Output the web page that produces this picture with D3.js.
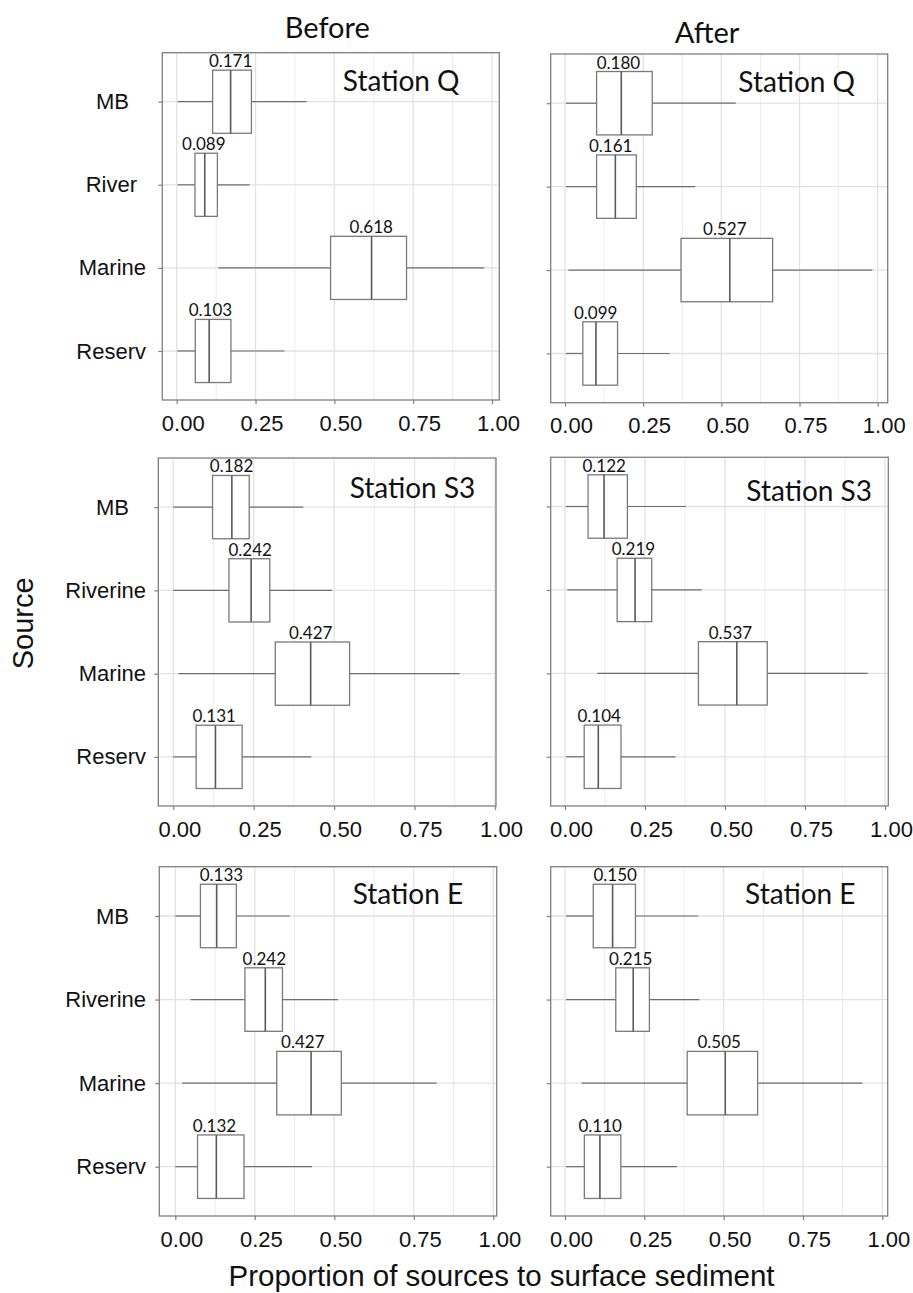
<!DOCTYPE html>
<html><head><meta charset="utf-8">
<script src="https://cdn.jsdelivr.net/npm/d3@7"></script>
<style>body{margin:0;background:#fff} svg{display:block}</style>
</head><body><div id="chart"></div>
<script>
// ---------- data ----------
const periods = ["Before", "After"];
const stations = ["Station Q", "Station S3", "Station E"];
const sourcesQ = ["MB", "River", "Marine", "Reserv"];
const sourcesOther = ["MB", "Riverine", "Marine", "Reserv"];
const xMajor = [0, 0.25, 0.5, 0.75, 1];
const xMinor = [0.125, 0.375, 0.625, 0.875];
const xTickLabels = ["0.00", "0.25", "0.50", "0.75", "1.00"];

// panel order: Before Q, After Q, Before S3, After S3, Before E, After E
// rows in each: MB, River(ine), Marine, Reserv
const whiskerLow = [
  [0.003, 0.003, 0.132, 0.002],
  [0.003, 0.003, 0.011, 0.003],
  [0.000, 0.000, 0.016, 0.000],
  [0.003, 0.007, 0.101, 0.003],
  [0.000, 0.048, 0.021, 0.000],
  [0.003, 0.003, 0.053, 0.003]
];
const q1 = [
  [0.114, 0.058, 0.488, 0.059],
  [0.101, 0.101, 0.371, 0.057],
  [0.122, 0.173, 0.317, 0.071],
  [0.072, 0.163, 0.417, 0.060],
  [0.079, 0.219, 0.319, 0.070],
  [0.089, 0.160, 0.385, 0.061]
];
const median = [
  [0.171, 0.089, 0.618, 0.103],
  [0.180, 0.161, 0.527, 0.099],
  [0.182, 0.242, 0.427, 0.131],
  [0.122, 0.219, 0.537, 0.104],
  [0.130, 0.283, 0.427, 0.129],
  [0.150, 0.215, 0.505, 0.110]
];
const q3 = [
  [0.237, 0.129, 0.729, 0.172],
  [0.279, 0.228, 0.664, 0.168],
  [0.236, 0.300, 0.548, 0.214],
  [0.195, 0.271, 0.632, 0.175],
  [0.192, 0.337, 0.522, 0.216],
  [0.222, 0.266, 0.607, 0.176]
];
const whiskerHigh = [
  [0.412, 0.231, 0.975, 0.342],
  [0.546, 0.416, 0.983, 0.335],
  [0.404, 0.494, 0.890, 0.429],
  [0.378, 0.427, 0.946, 0.345],
  [0.360, 0.511, 0.822, 0.430],
  [0.420, 0.423, 0.937, 0.353]
];
const medianText = [
  ["0.171", "0.089", "0.618", "0.103"],
  ["0.180", "0.161", "0.527", "0.099"],
  ["0.182", "0.242", "0.427", "0.131"],
  ["0.122", "0.219", "0.537", "0.104"],
  ["0.133", "0.242", "0.427", "0.132"],
  ["0.150", "0.215", "0.505", "0.110"]
];
// value on the x axis over which each median annotation is centred
const medianTextAt = [
  [0.171, 0.086, 0.617, 0.107],
  [0.171, 0.146, 0.511, 0.098],
  [0.181, 0.239, 0.427, 0.127],
  [0.1225, 0.214, 0.517, 0.107],
  [0.145, 0.280, 0.401, 0.123],
  [0.158, 0.207, 0.486, 0.111]
];

// ---------- layout ----------
const W = 913, H = 1293;
const layout = [
  {left:162.3, right:499.3, top:52.7, bottom:400,  x0:176.7, x1:492,   yAxis:true,  lx:401.2, ly:91},
  {left:550.7, right:887.7, top:54,   bottom:402.7,x0:565,   x1:877.7, yAxis:false, lx:796.7, ly:92.3},
  {left:158.3, right:496,   top:458,  bottom:806,  x0:173.3, x1:495,   yAxis:true,  lx:412.5, ly:498.3},
  {left:550.7, right:888.3, top:457.3,bottom:806,  x0:565,   x1:885,   yAxis:false, lx:809.2, ly:500.7},
  {left:159.3, right:496.7, top:866.7,bottom:1216, x0:175.3, x1:493.3, yAxis:true,  lx:407.9, ly:904},
  {left:550.7, right:887.7, top:866.7,bottom:1216, x0:565,   x1:882.3, yAxis:false, lx:800.3, ly:904.3}
];
const labelShift = {"MB": -17, "River": -9};
const labelRight = 146;
const axisFont = "'Liberation Sans', Arial, sans-serif";
const annFont = "Lato, 'Open Sans', sans-serif";

const svg = d3.select("#chart").append("svg").attr("width", W).attr("height", H);

layout.forEach((L, i) => {
  const station = Math.floor(i / 2);
  const cats = station === 0 ? sourcesQ : sourcesOther;
  const x = d3.scaleLinear().domain([0, 1]).range([L.x0, L.x1]);
  const y = d3.scalePoint().domain(cats).range([L.top, L.bottom]).padding(0.59);
  const hh = y.step() * 0.38;
  const g = svg.append("g");

  // grid
  g.selectAll(".gmin").data(xMinor).join("line")
    .attr("x1", d => x(d)).attr("x2", d => x(d)).attr("y1", L.top).attr("y2", L.bottom)
    .attr("stroke", "#ececec").attr("stroke-width", 1);
  g.selectAll(".gmaj").data(xMajor).join("line")
    .attr("x1", d => x(d)).attr("x2", d => x(d)).attr("y1", L.top).attr("y2", L.bottom)
    .attr("stroke", "#e2e2e2").attr("stroke-width", 1.3);
  g.selectAll(".gy").data(cats).join("line")
    .attr("x1", L.left).attr("x2", L.right).attr("y1", d => y(d)).attr("y2", d => y(d))
    .attr("stroke", "#e2e2e2").attr("stroke-width", 1.3);

  // x axis
  const xa = g.append("g").attr("transform", `translate(0,${L.bottom})`)
    .call(d3.axisBottom(x).tickValues(xMajor).tickSize(4).tickSizeOuter(0).tickPadding(11)
      .tickFormat((d, k) => xTickLabels[k]));
  xa.select(".domain").remove();
  xa.selectAll("line").attr("stroke", "#7f7f7f").attr("stroke-width", 1.2);
  xa.selectAll("text").attr("dx", 6).attr("fill", "#111")
    .style("font-family", axisFont).style("font-size", "22px");

  // y axis
  const ya = g.append("g").attr("transform", `translate(${L.left},0)`)
    .call(d3.axisLeft(y).tickSize(4).tickSizeOuter(0).tickPadding(L.left - 4 - labelRight)
      .tickFormat(d => L.yAxis ? d : ""));
  ya.select(".domain").remove();
  ya.selectAll("line").attr("stroke", "#7f7f7f").attr("stroke-width", 1.2);
  ya.selectAll("text").attr("fill", "#111").attr("dx", d => labelShift[d] || 0)
    .style("font-family", axisFont).style("font-size", "22px");

  // boxes
  const rows = cats.map((c, k) => ({c, k}));
  const bx = g.selectAll(".box").data(rows).join("g");
  bx.append("line")
    .attr("x1", d => x(whiskerLow[i][d.k])).attr("x2", d => x(q1[i][d.k]))
    .attr("y1", d => y(d.c)).attr("y2", d => y(d.c))
    .attr("stroke", "#6e6e6e").attr("stroke-width", 1.2);
  bx.append("line")
    .attr("x1", d => x(q3[i][d.k])).attr("x2", d => x(whiskerHigh[i][d.k]))
    .attr("y1", d => y(d.c)).attr("y2", d => y(d.c))
    .attr("stroke", "#6e6e6e").attr("stroke-width", 1.2);
  bx.append("rect")
    .attr("x", d => x(q1[i][d.k])).attr("width", d => x(q3[i][d.k]) - x(q1[i][d.k]))
    .attr("y", d => y(d.c) - hh).attr("height", 2 * hh)
    .attr("fill", "#fff").attr("stroke", "#7a7a7a").attr("stroke-width", 1.3);
  bx.append("line")
    .attr("x1", d => x(median[i][d.k])).attr("x2", d => x(median[i][d.k]))
    .attr("y1", d => y(d.c) - hh).attr("y2", d => y(d.c) + hh)
    .attr("stroke", "#5a5a5a").attr("stroke-width", 1.6);
  bx.append("text")
    .attr("x", d => x(medianTextAt[i][d.k])).attr("y", d => y(d.c) - hh - 3)
    .attr("text-anchor", "middle").attr("fill", "#111")
    .style("font-family", annFont).style("font-size", "17px")
    .text(d => medianText[i][d.k]);

  // border
  g.append("rect").attr("x", L.left).attr("y", L.top)
    .attr("width", L.right - L.left).attr("height", L.bottom - L.top)
    .attr("fill", "none").attr("stroke", "#7f7f7f").attr("stroke-width", 1.3);

  // station label
  g.append("text").attr("x", L.lx).attr("y", L.ly).attr("text-anchor", "middle")
    .attr("fill", "#111").style("font-family", annFont).style("font-size", "28px")
    .text(stations[station]);
});

// column titles
const titlePos = [[327.3, 38.3], [707, 43.3]];
svg.selectAll(".ptitle").data(periods).join("text")
  .attr("x", (d, k) => titlePos[k][0]).attr("y", (d, k) => titlePos[k][1])
  .attr("text-anchor", "middle").attr("fill", "#111")
  .style("font-family", annFont).style("font-size", "29px").text(d => d);

// axis titles
svg.append("text").attr("transform", "translate(33,623.3) rotate(-90)")
  .attr("text-anchor", "middle").attr("fill", "#111")
  .style("font-family", axisFont).style("font-size", "29px").text("Source");
svg.append("text").attr("x", 501.5).attr("y", 1286)
  .attr("text-anchor", "middle").attr("fill", "#111")
  .style("font-family", axisFont).style("font-size", "29.5px")
  .text("Proportion of sources to surface sediment");
</script></body></html>
